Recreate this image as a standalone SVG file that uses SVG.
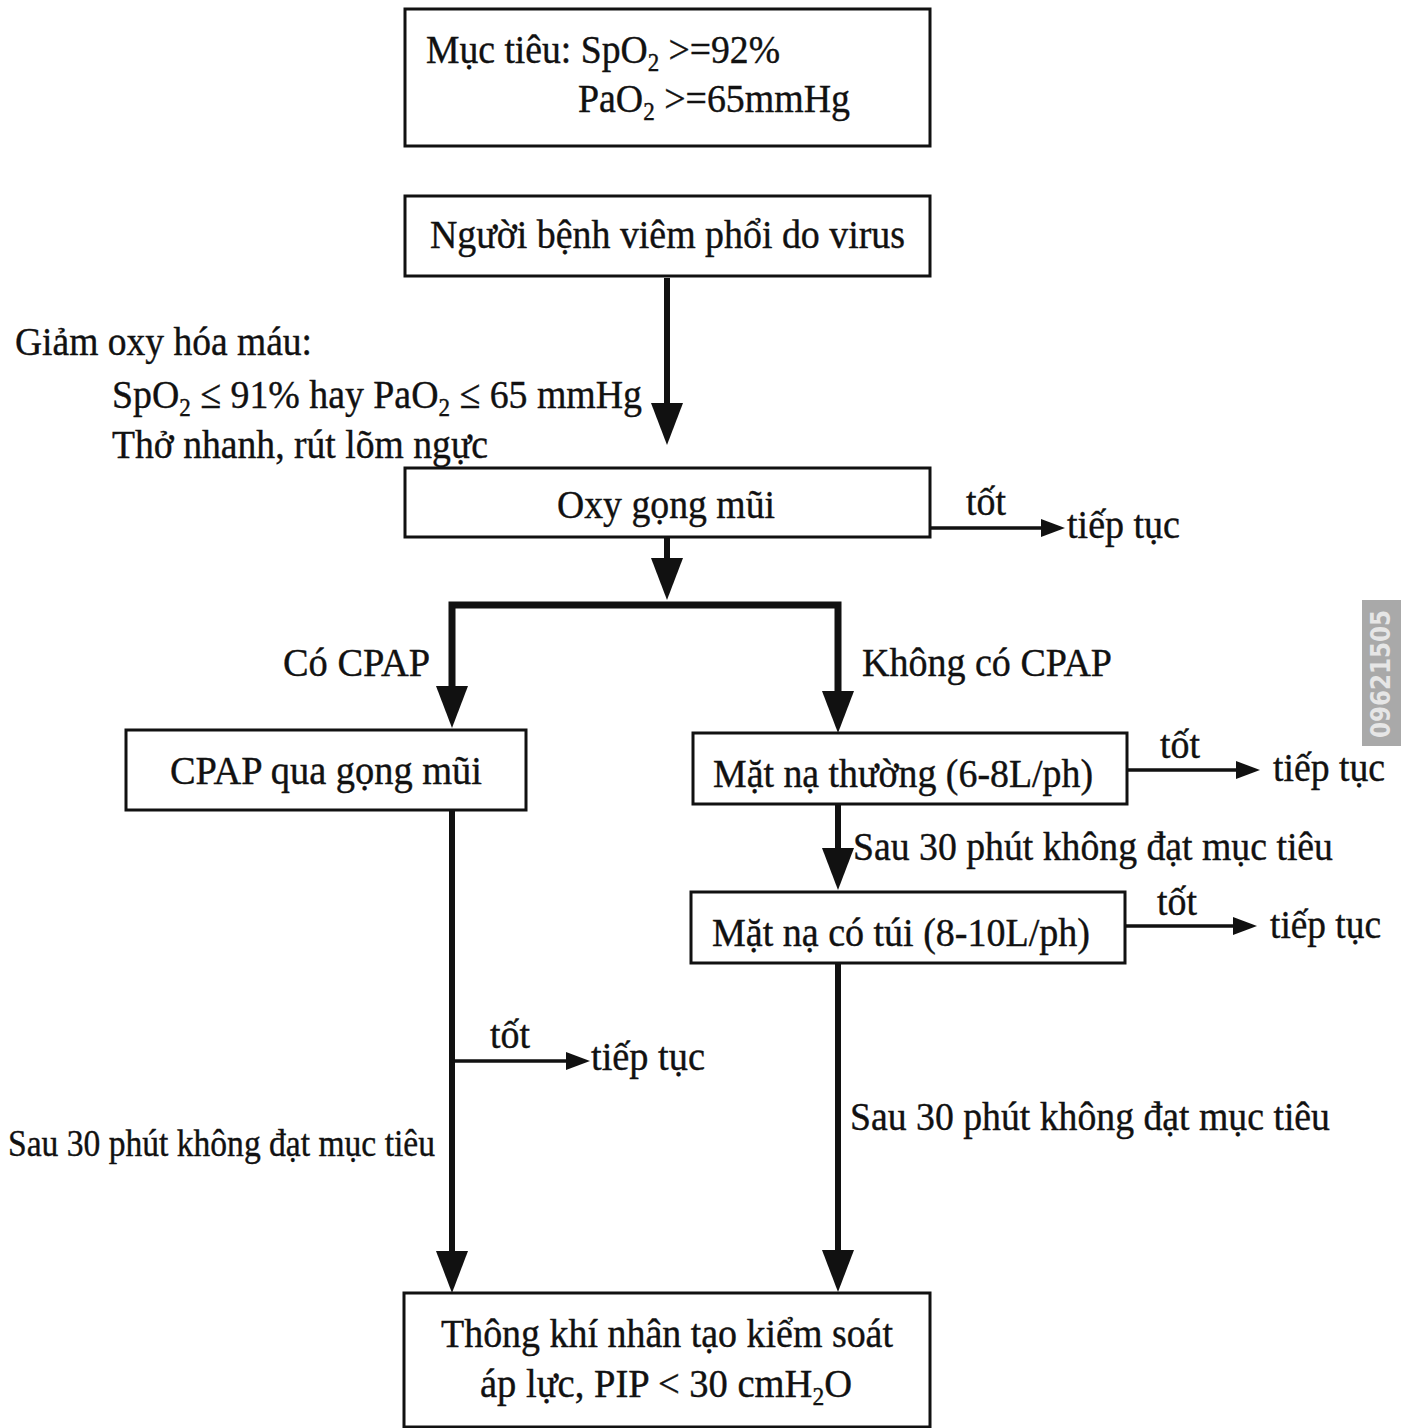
<svg xmlns="http://www.w3.org/2000/svg" width="1401" height="1428" viewBox="0 0 1401 1428">
<defs>
<style>
.box{fill:#fff;stroke:#111;stroke-width:3}
.t{font-family:"Liberation Serif","Times New Roman",serif;font-size:41px;fill:#111;stroke:#111;stroke-width:0.4}
.s{font-size:25px}
.thick{stroke:#111;stroke-width:6;fill:none}
.thin{stroke:#111;stroke-width:3.5;fill:none}
</style>
<marker id="big" markerUnits="userSpaceOnUse" markerWidth="44" markerHeight="34" refX="0" refY="16" orient="auto">
<path d="M0,0 L42,16 L0,32 Z" fill="#111"/>
</marker>
<marker id="small" markerUnits="userSpaceOnUse" markerWidth="26" markerHeight="20" refX="0" refY="9" orient="auto">
<path d="M0,0 L24,9 L0,18 Z" fill="#111"/>
</marker>
</defs>
<rect width="1401" height="1428" fill="#fff"/>

<g id="connectors">
<line class="thick" x1="667" y1="278" x2="667" y2="403" marker-end="url(#big)"/>
<line class="thick" x1="667" y1="537" x2="667" y2="558" marker-end="url(#big)"/>
<polyline class="thick" points="452,686 452,605 838,605 838,691" style="stroke-width:7"/>
<line x1="452" y1="685" x2="452" y2="686" class="thick" marker-end="url(#big)"/>
<line x1="838" y1="690" x2="838" y2="691" class="thick" marker-end="url(#big)"/>
<line class="thick" x1="838" y1="804" x2="838" y2="848" marker-end="url(#big)"/>
<line class="thick" x1="838" y1="963" x2="838" y2="1250" marker-end="url(#big)"/>
<line class="thick" x1="452" y1="810" x2="452" y2="1251" marker-end="url(#big)"/>
<line class="thin" x1="930" y1="528" x2="1041" y2="528" marker-end="url(#small)"/>
<line class="thin" x1="1127" y1="770" x2="1236" y2="770" marker-end="url(#small)"/>
<line class="thin" x1="1125" y1="926" x2="1233" y2="926" marker-end="url(#small)"/>
<line class="thin" x1="452" y1="1061" x2="566" y2="1061" marker-end="url(#small)"/>
</g>

<g id="node-goal">
<rect class="box" x="405" y="9" width="525" height="137"/>
<text class="t" x="426" y="63" textLength="354" lengthAdjust="spacingAndGlyphs">Mục tiêu: SpO<tspan class="s" dy="8">2</tspan><tspan dy="-8"> &gt;=92%</tspan></text>
<text class="t" x="578" y="112" textLength="272" lengthAdjust="spacingAndGlyphs">PaO<tspan class="s" dy="8">2</tspan><tspan dy="-8"> &gt;=65mmHg</tspan></text>
</g>

<g id="node-patient">
<rect class="box" x="405" y="196" width="525" height="80"/>
<text class="t" x="430" y="248" textLength="475" lengthAdjust="spacingAndGlyphs">Người bệnh viêm phổi do virus</text>
</g>

<g id="label-hypox">
<text class="t" x="15" y="355" textLength="297" lengthAdjust="spacingAndGlyphs">Giảm oxy hóa máu:</text>
<text class="t" x="112" y="408" textLength="530" lengthAdjust="spacingAndGlyphs">SpO<tspan class="s" dy="8">2</tspan><tspan dy="-8"> ≤ 91% hay PaO</tspan><tspan class="s" dy="8">2</tspan><tspan dy="-8"> ≤ 65 mmHg</tspan></text>
<text class="t" x="112" y="458" textLength="376" lengthAdjust="spacingAndGlyphs">Thở nhanh, rút lõm ngực</text>
</g>

<g id="node-oxy">
<rect class="box" x="405" y="468" width="525" height="69"/>
<text class="t" x="557" y="518" textLength="218" lengthAdjust="spacingAndGlyphs">Oxy gọng mũi</text>
<text class="t" x="966" y="515" textLength="40" lengthAdjust="spacingAndGlyphs">tốt</text>
<text class="t" x="1067" y="538" textLength="113" lengthAdjust="spacingAndGlyphs">tiếp tục</text>
</g>

<g id="branch-labels">
<text class="t" x="283" y="676" textLength="147" lengthAdjust="spacingAndGlyphs">Có CPAP</text>
<text class="t" x="862" y="676" textLength="250" lengthAdjust="spacingAndGlyphs">Không có CPAP</text>
</g>

<g id="node-cpap">
<rect class="box" x="126" y="730" width="400" height="80"/>
<text class="t" x="170" y="784" textLength="312" lengthAdjust="spacingAndGlyphs">CPAP qua gọng mũi</text>
<text class="t" x="490" y="1048" textLength="40" lengthAdjust="spacingAndGlyphs">tốt</text>
<text class="t" x="591" y="1070" textLength="114" lengthAdjust="spacingAndGlyphs">tiếp tục</text>
<text class="t" x="8" y="1156" style="font-size:38px" textLength="427" lengthAdjust="spacingAndGlyphs">Sau 30 phút không đạt mục tiêu</text>
</g>

<g id="node-mask">
<rect class="box" x="693" y="733" width="434" height="71"/>
<text class="t" x="713" y="787" textLength="380" lengthAdjust="spacingAndGlyphs">Mặt nạ thường (6-8L/ph)</text>
<text class="t" x="1160" y="758" textLength="40" lengthAdjust="spacingAndGlyphs">tốt</text>
<text class="t" x="1273" y="781" textLength="112" lengthAdjust="spacingAndGlyphs">tiếp tục</text>
<text class="t" x="853" y="860" textLength="480" lengthAdjust="spacingAndGlyphs">Sau 30 phút không đạt mục tiêu</text>
</g>

<g id="node-bagmask">
<rect class="box" x="691" y="892" width="434" height="71"/>
<text class="t" x="712" y="946" textLength="378" lengthAdjust="spacingAndGlyphs">Mặt nạ có túi (8-10L/ph)</text>
<text class="t" x="1157" y="915" textLength="40" lengthAdjust="spacingAndGlyphs">tốt</text>
<text class="t" x="1270" y="938" textLength="111" lengthAdjust="spacingAndGlyphs">tiếp tục</text>
<text class="t" x="850" y="1130" textLength="480" lengthAdjust="spacingAndGlyphs">Sau 30 phút không đạt mục tiêu</text>
</g>

<g id="node-ventilation">
<rect class="box" x="404" y="1293" width="526" height="134"/>
<text class="t" x="441" y="1347" textLength="452" lengthAdjust="spacingAndGlyphs">Thông khí nhân tạo kiểm soát</text>
<text class="t" x="480" y="1397" textLength="372" lengthAdjust="spacingAndGlyphs">áp lực, PIP &lt; 30 cmH<tspan class="s" dy="8">2</tspan><tspan dy="-8">O</tspan></text>
</g>

<g id="watermark">
<rect x="1362" y="600" width="39" height="146" fill="#a9a9a9"/>
<text x="1390" y="738" transform="rotate(-90 1390 738)" style="font-family:'DejaVu Sans',sans-serif;font-size:26px;font-weight:bold;fill:#e6e6e6" textLength="128" lengthAdjust="spacingAndGlyphs">09621505</text>
</g>
</svg>
